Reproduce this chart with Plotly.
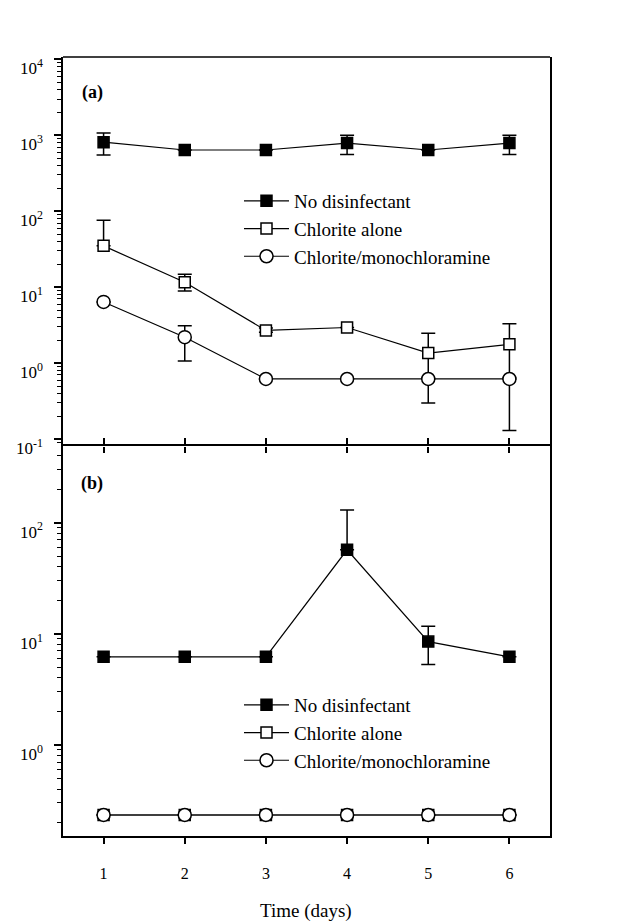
import plotly.graph_objects as go

# ---------------- data ----------------
days = [1, 2, 3, 4, 5, 6]
day_labels = ["1", "2", "3", "4", "5", "6"]

# Panel (a)
a_none = [810, 640, 640, 790, 640, 790]
a_none_hi = [1070, 640, 640, 1000, 640, 1000]
a_none_lo = [550, 640, 640, 560, 640, 560]

a_chlorite = [35, 11.6, 2.7, 2.95, 1.36, 1.77]
a_chlorite_hi = [76, 14.8, 2.9, 2.95, 2.47, 3.3]
a_chlorite_lo = [35, 8.9, 2.55, 2.95, 0.65, 0.65]

a_mono = [6.4, 2.2, 0.62, 0.62, 0.62, 0.62]
a_mono_hi = [6.4, 3.1, 0.62, 0.62, 0.62, 0.62]
a_mono_lo = [6.4, 1.07, 0.62, 0.62, 0.30, 0.13]

# Panel (b)
b_none = [6.2, 6.2, 6.2, 57, 8.5, 6.2]
b_none_hi = [6.2, 6.2, 6.2, 130, 11.7, 6.2]
b_none_lo = [6.2, 6.2, 6.2, 57, 5.3, 6.2]

b_chlorite = [0.234, 0.234, 0.234, 0.234, 0.234, 0.234]
b_mono = [0.234, 0.234, 0.234, 0.234, 0.234, 0.234]

series_names = ["No disinfectant", "Chlorite alone", "Chlorite/monochloramine"]

a_tickvals = [0.1, 1, 10, 100, 1000, 10000]
a_ticktext = ["10<sup>-1</sup>", "10<sup>0</sup>", "10<sup>1</sup>", "10<sup>2</sup>", "10<sup>3</sup>", "10<sup>4</sup>"]
b_tickvals = [1, 10, 100]
b_ticktext = ["10<sup>0</sup>", "10<sup>1</sup>", "10<sup>2</sup>"]

# ---------------- layout geometry (page px; body has 8px margin) ----------------
OFF = 8
W, H = 635 - OFF, 923 - OFF
L, R, T, B = 63 - OFF, 550 - OFF, 57 - OFF, 836 - OFF
PW, PH = R - L, B - T


def px(xp):
    return (xp - OFF - L) / PW


def py(yp):
    return 1 - (yp - OFF - T) / PH


FONT = "Liberation Serif"
styles = [
    dict(symbol="square", size=11, color="black", line=dict(color="black", width=1.5)),
    dict(symbol="square", size=11, color="white", line=dict(color="black", width=1.5)),
    dict(symbol="circle", size=13, color="white", line=dict(color="black", width=1.5)),
]


def errs(v, hi, lo):
    return [h - x for h, x in zip(hi, v)], [x - l for l, x in zip(lo, v)]


fig = go.Figure()

panel_a = [(a_none, a_none_hi, a_none_lo), (a_chlorite, a_chlorite_hi, a_chlorite_lo), (a_mono, a_mono_hi, a_mono_lo)]
for i, (v, hi, lo) in enumerate(panel_a):
    up, dn = errs(v, hi, lo)
    fig.add_trace(go.Scatter(
        x=days, y=v, mode="lines+markers", name=series_names[i],
        xaxis="x2", yaxis="y2", legend="legend", legendgroup="a%d" % i,
        line=dict(color="black", width=1.2), marker=styles[i],
        error_y=dict(type="data", array=up, arrayminus=dn, symmetric=False,
                     color="black", thickness=1.5, width=7),
    ))

panel_b = [(b_none, b_none_hi, b_none_lo), (b_chlorite, b_chlorite, b_chlorite), (b_mono, b_mono, b_mono)]
for i, (v, hi, lo) in enumerate(panel_b):
    up, dn = errs(v, hi, lo)
    fig.add_trace(go.Scatter(
        x=days, y=v, mode="lines+markers", name=series_names[i],
        xaxis="x", yaxis="y", legend="legend2", legendgroup="b%d" % i,
        line=dict(color="black", width=1.2), marker=styles[i],
        error_y=dict(type="data", array=up, arrayminus=dn, symmetric=False,
                     color="black", thickness=1.5, width=7),
    ))


def minor_vals(lo_exp, hi_exp):
    return [m * 10 ** e for e in range(lo_exp, hi_exp + 1) for m in range(2, 10)]


ytickfont = dict(family=FONT, size=17, color="black")
xtickfont = dict(family=FONT, size=16, color="black")
split = (836 - 446) / PH

common_y = dict(type="log", showgrid=False, zeroline=False, showline=True, linecolor="black",
                linewidth=1.5, mirror=True, ticks="outside", ticklen=7, tickwidth=1.5,
                tickcolor="black", tickfont=ytickfont, tickmode="array", ticklabelstandoff=8,
                ticklabelshift=9, automargin=False)

legend_common = dict(xanchor="left", yanchor="top", bgcolor="rgba(0,0,0,0)",
                     font=dict(family=FONT, size=19, color="black"),
                     itemwidth=45, tracegroupgap=0)

fig.update_layout(
    width=W, height=H,
    margin=dict(l=L, r=W - R, t=T, b=H - B),
    plot_bgcolor="white", paper_bgcolor="white",
    font=dict(family=FONT, color="black"),
    xaxis=dict(domain=[0, 1], anchor="y", range=[0.5, 6.5], tickmode="array",
               tickvals=days, ticktext=day_labels, showgrid=False, zeroline=False,
               showline=True, linecolor="black", linewidth=1.5, mirror="ticks",
               ticks="outside", ticklen=6, tickwidth=1.5, tickcolor="black",
               tickfont=xtickfont, ticklabelstandoff=16, automargin=False),
    xaxis2=dict(domain=[0, 1], anchor="y2", matches="x", range=[0.5, 6.5], tickmode="array",
                tickvals=days, showticklabels=False, showgrid=False, zeroline=False,
                showline=False, ticks="outside", ticklen=6, tickwidth=1.5,
                tickcolor="black", automargin=False),
    yaxis=dict(domain=[0, split], anchor="x", range=[-0.82, 2.69],
               tickvals=b_tickvals, ticktext=b_ticktext,
               minor=dict(tickmode="array", tickvals=minor_vals(-1, 2), ticks="outside",
                          ticklen=4, tickwidth=1, tickcolor="black", showgrid=False),
               **common_y),
    yaxis2=dict(domain=[split, 1], anchor="x2", range=[-1.09, 4.03],
                tickvals=a_tickvals, ticktext=a_ticktext,
                minor=dict(tickmode="array", tickvals=minor_vals(-2, 3), ticks="outside",
                           ticklen=4, tickwidth=1, tickcolor="black", showgrid=False),
                **common_y),
    legend=dict(x=px(239), y=py(182), **legend_common),
    legend2=dict(x=px(239), y=py(686), **legend_common),
    shapes=[
        dict(type="line", xref="x2 domain", yref="y2 domain", x0=0, x1=1, y0=1, y1=1,
             line=dict(color="black", width=1.5)),
    ],
    annotations=[
        dict(text="<b>(a)</b>", xref="paper", yref="paper", x=px(92), y=py(92),
             xanchor="center", yanchor="middle",
             showarrow=False, font=dict(family=FONT, size=18, color="black")),
        dict(text="<b>(b)</b>", xref="paper", yref="paper", x=px(92), y=py(483),
             xanchor="center", yanchor="middle",
             showarrow=False, font=dict(family=FONT, size=18, color="black")),
        dict(text="Time (days)", xref="paper", yref="paper", x=px(306), y=py(911),
             xanchor="center", yanchor="middle",
             showarrow=False, font=dict(family=FONT, size=19, color="black")),
    ],
)

fig.write_html("out.html")
